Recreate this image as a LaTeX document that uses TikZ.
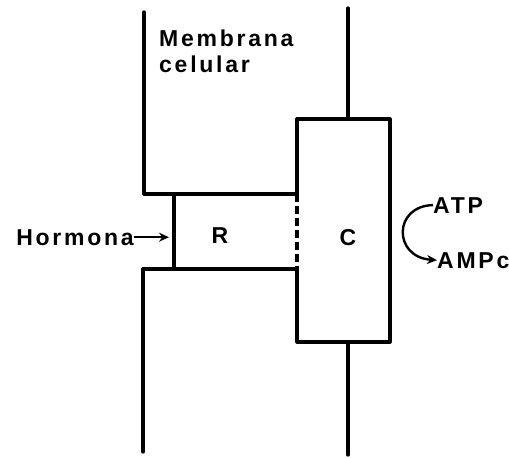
\documentclass[tikz,border=0pt]{standalone}
\usepackage{fontspec}
\newfontfamily\lblfont[LetterSpace=12]{Liberation Sans Bold}
\usetikzlibrary{positioning,arrows.meta}

\begin{document}
\begin{tikzpicture}[x=1pt,y=-1pt,
  wall/.style={line width=3.2pt,line join=round,line cap=round},
  lbl/.style={inner sep=0pt,font=\lblfont\fontsize{23}{26}\selectfont},
  part/.style={rectangle,inner sep=0pt,outer sep=0pt},
  arr/.style={-{Stealth[length=10pt,width=9pt]},line width=2.4pt}
]
\useasboundingbox (0,0) rectangle (509,458);
\node[part,minimum width=123pt,minimum height=75pt] (r) at (235.5,231.5) {};
\node[part,minimum width=93pt,minimum height=223pt] (c) at (343.5,230.5) {};
\node[lbl] (rlbl) at (220,236) {R};
\node[lbl] (clbl) at (348,238) {C};
\node[lbl,align=left,anchor=north west] (memb) at (159,30) {Membrana\\celular};
\node[lbl,anchor=base east] (horm) at (134,245) {Hormona};
\node[lbl,anchor=base west] (atp) at (433,213) {ATP};
\node[lbl,anchor=base west] (amp) at (437,268) {AMPc};
% membrana
\draw[wall] (144,12) |- (r.north east);
\draw[wall] (143,452) |- (r.south east);
\draw[wall] (r.north west) -- (r.south west);
\draw[line width=3.2pt,dash pattern=on 8pt off 4pt] (r.north east) -- (r.south east);
\draw[wall] (r.north east) -- (c.north west) -- (c.north east) -- (c.south east) -- (c.south west) -- (r.south east);
\draw[wall] (348,8) -- (348,8 |- c.north);
\draw[wall] (348,455) -- (348,455 |- c.south);
% flechas
\draw[arr,shorten >=5pt] (horm.east) -- (horm.east -| r.west);
\draw[arr] (atp.west) .. controls (393,206) and (393,257) .. (amp.west);
\end{tikzpicture}
\end{document}
